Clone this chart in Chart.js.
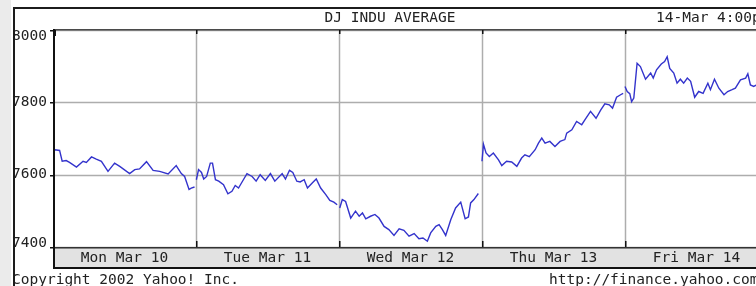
<!DOCTYPE html>
<html>
<head>
<meta charset="utf-8">
<title>DJ INDU AVERAGE</title>
<script src="https://cdn.jsdelivr.net/npm/chart.js@4"></script>
<style>
html, body { margin: 0; padding: 0; background: #fff; overflow: hidden; }
#wrap { position: relative; width: 756px; height: 286px; overflow: hidden; }
canvas { display: block; }
</style>
</head>
<body>
<div id="wrap"><canvas id="chart" width="790" height="286"></canvas></div>
<script>
const dayLabels = ['Mon Mar 10', 'Tue Mar 11', 'Wed Mar 12', 'Thu Mar 13', 'Fri Mar 14'];
const yTicks = [7400, 7600, 7800, 8000];
const titleText = 'DJ INDU AVERAGE';
const stampText = '14-Mar 4:00p';
const footLeft = 'Copyright 2002 Yahoo! Inc.';
const footRight = 'http://finance.yahoo.com';
const minutesPerDay = 390;

// [minutos desde la apertura, valor del indice]
const mon = [[0, 7668], [5, 7669], [18, 7667], [25, 7637], [36, 7639], [45, 7634], [64, 7621], [82, 7637],
    [91, 7634], [105, 7649], [118, 7643], [132, 7637], [150, 7609], [168, 7632], [182, 7623], [209, 7603],
    [223, 7614], [236, 7616], [255, 7636], [273, 7612], [291, 7609], [314, 7602], [336, 7625], [350, 7603],
    [359, 7595], [371, 7559], [377, 7563], [386, 7566]];
const tue = [[1, 7586], [7, 7614], [15, 7606], [21, 7588], [29, 7595], [39, 7632], [45, 7632], [53, 7586],
    [62, 7582], [75, 7572], [87, 7547], [98, 7554], [107, 7570], [116, 7563], [124, 7577], [139, 7603],
    [153, 7595], [164, 7582], [175, 7600], [189, 7584], [203, 7603], [215, 7582], [235, 7603], [244, 7588],
    [255, 7612], [264, 7606], [275, 7582], [284, 7580], [295, 7586], [304, 7563], [317, 7577], [328, 7588],
    [340, 7563], [354, 7545], [365, 7529], [376, 7524], [385, 7517]];
const wed = [[2, 7508], [9, 7531], [18, 7526], [32, 7480], [45, 7499], [55, 7485], [64, 7494], [73, 7478],
    [86, 7485], [98, 7490], [109, 7480], [123, 7457], [136, 7448], [150, 7432], [164, 7450], [177, 7446],
    [191, 7430], [205, 7437], [218, 7423], [229, 7425], [241, 7416], [250, 7439], [264, 7457], [273, 7462],
    [282, 7448], [291, 7432], [305, 7476], [318, 7508], [332, 7524], [344, 7478], [353, 7483], [359, 7522],
    [368, 7531], [380, 7548]];
const thu = [[0, 7637], [4, 7684], [11, 7660], [20, 7650], [31, 7660], [45, 7641], [54, 7625], [67, 7637],
    [81, 7635], [95, 7623], [108, 7646], [117, 7655], [129, 7650], [145, 7669], [154, 7687], [163, 7701],
    [172, 7687], [185, 7692], [199, 7678], [213, 7692], [226, 7697], [231, 7715], [245, 7724], [258, 7747],
    [272, 7738], [281, 7752], [296, 7775], [311, 7756], [324, 7779], [335, 7796], [347, 7793], [356, 7784],
    [367, 7814], [378, 7821], [385, 7825]];
const fri = [[0, 7844], [6, 7830], [13, 7824], [18, 7802], [24, 7812], [33, 7908], [42, 7899], [56, 7864],
    [70, 7881], [77, 7867], [86, 7890], [99, 7906], [108, 7913], [115, 7926], [122, 7894], [133, 7881],
    [142, 7853], [151, 7864], [160, 7853], [170, 7867], [179, 7858], [190, 7814], [201, 7830], [213, 7825],
    [226, 7853], [233, 7835], [244, 7864], [256, 7839], [270, 7821], [280, 7830], [292, 7835], [301, 7839],
    [315, 7862], [329, 7867], [335, 7879], [342, 7848], [351, 7844], [359, 7848]];
const days = [mon, tue, wed, thu, fri];

const font = '14.5px "DejaVu Sans Mono", "Liberation Mono", monospace';
const ink = '#222';

// Marco, rejilla y textos estilo Yahoo
const yahooFrame = {
    id: 'yahooFrame',
    beforeDatasetsDraw(chart) {
        const ctx = chart.ctx;
        const a = chart.chartArea;
        const x = chart.scales.x;
        const y = chart.scales.y;
        ctx.save();
        ctx.fillStyle = '#ebebeb';
        ctx.fillRect(0, 0, 11, chart.height);
        // franja gris de las fechas
        ctx.fillStyle = '#e2e2e2';
        ctx.fillRect(a.left, a.bottom, chart.width - a.left, 268 - a.bottom);
        // rejilla
        ctx.strokeStyle = '#adadad';
        ctx.lineWidth = 1.5;
        for (let d = 1; d <= dayLabels.length; d++) {
            const px = Math.round(x.getPixelForValue(d * minutesPerDay)) + 0.5;
            ctx.beginPath();
            ctx.moveTo(px, a.top);
            ctx.lineTo(px, a.bottom);
            ctx.stroke();
        }
        yTicks.forEach(v => {
            const py = Math.round(y.getPixelForValue(v)) + 0.5;
            ctx.beginPath();
            ctx.moveTo(a.left, py);
            ctx.lineTo(chart.width, py);
            ctx.stroke();
        });
        ctx.restore();
    },
    afterDatasetsDraw(chart) {
        const ctx = chart.ctx;
        const a = chart.chartArea;
        const x = chart.scales.x;
        const y = chart.scales.y;
        ctx.save();
        ctx.font = font;
        ctx.fillStyle = ink;
        ctx.textBaseline = 'middle';

        // etiquetas del eje Y
        ctx.textAlign = 'right';
        yTicks.forEach(v => {
            let py = y.getPixelForValue(v);
            py = Math.min(Math.max(py, a.top + 6), a.bottom - 4);
            ctx.fillText(String(v), 47, py);
        });

        // etiquetas de los dias
        ctx.textAlign = 'center';
        dayLabels.forEach((lbl, i) => {
            ctx.fillText(lbl, x.getPixelForValue((i + 0.5) * minutesPerDay), 258);
        });

        ctx.fillText(titleText, 390, 18);
        ctx.textAlign = 'left';
        ctx.fillText(stampText, 656, 18);
        ctx.fillText(footLeft, 12, 280);
        ctx.fillText(footRight, 549, 280);

        // bordes
        ctx.fillStyle = '#4a4a4a';
        ctx.fillRect(a.left, a.top - 1, chart.width - a.left, 1.5);
        ctx.fillStyle = '#333';
        ctx.fillRect(a.left, a.bottom, chart.width - a.left, 1.5);
        ctx.fillStyle = '#111';
        ctx.fillRect(a.left, 267, chart.width - a.left, 2);
        ctx.fillRect(a.left, a.top - 1, 2, 268 - a.top + 1);

        // marcas
        for (let d = 1; d <= dayLabels.length; d++) {
            const px = Math.round(x.getPixelForValue(d * minutesPerDay));
            ctx.fillRect(px, a.top, 1.5, 4);
            ctx.fillRect(px, a.bottom - 6, 1.5, 6);
        }
        ctx.fillRect(a.left, a.top, 3, 6);
        yTicks.forEach(v => {
            const py = Math.round(y.getPixelForValue(v));
            ctx.fillRect(a.left - 3, py, 3, 1.5);
        });

        // marco exterior
        ctx.fillStyle = '#1c1c1c';
        ctx.fillRect(13, 7, chart.width, 2);
        ctx.fillRect(13, 7, 2, chart.height);
        ctx.restore();
    }
};

const ctx = document.getElementById('chart').getContext('2d');
new Chart(ctx, {
    type: 'line',
    data: {
        datasets: days.map((pts, i) => ({
            data: pts.map(p => ({ x: i * minutesPerDay + p[0], y: p[1] })),
            borderColor: '#3333cc',
            borderWidth: 1.4,
            pointRadius: 0,
            tension: 0,
            fill: false
        }))
    },
    options: {
        responsive: false,
        animation: false,
        devicePixelRatio: 1,
        events: [],
        layout: { padding: { left: 53, top: 30, right: 22, bottom: 39 } },
        plugins: { legend: { display: false }, tooltip: { enabled: false } },
        scales: {
            x: { type: 'linear', display: false, min: 0, max: dayLabels.length * minutesPerDay },
            y: { type: 'linear', display: false, min: yTicks[0], max: yTicks[yTicks.length - 1] }
        }
    },
    plugins: [yahooFrame]
});
</script>
</body>
</html>
